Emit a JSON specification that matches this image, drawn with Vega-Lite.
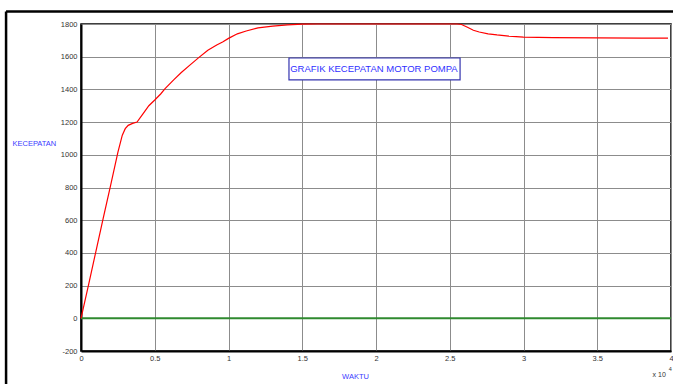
{
  "$schema": "https://vega.github.io/schema/vega-lite/v6.json",
  "width": 590,
  "height": 327,
  "autosize": {"type": "none"},
  "padding": {"left": 81, "top": 24, "right": 2, "bottom": 33},
  "background": "white",
  "config": {
    "view": {"stroke": "black", "strokeWidth": 1.5},
    "font": "Liberation Sans",
    "axis": {"labelOverlap": false, "labelBound": false, "labelSeparation": 0},
    "axisQuantitative": {"labelOverlap": false},
    "axisY": {"labelOverlap": false},
    "axisX": {"labelOverlap": false}
  },
  "datasets": {
    "speed": [
      {"t": 0, "v": 0}, {"t": 0.05, "v": 200}, {"t": 0.1, "v": 405}, {"t": 0.15, "v": 610},
      {"t": 0.2, "v": 810}, {"t": 0.25, "v": 1015}, {"t": 0.28, "v": 1120}, {"t": 0.3, "v": 1160},
      {"t": 0.32, "v": 1180}, {"t": 0.35, "v": 1192}, {"t": 0.38, "v": 1200}, {"t": 0.42, "v": 1250},
      {"t": 0.46, "v": 1300}, {"t": 0.5, "v": 1335}, {"t": 0.54, "v": 1372}, {"t": 0.57, "v": 1405},
      {"t": 0.63, "v": 1460}, {"t": 0.68, "v": 1503}, {"t": 0.74, "v": 1550}, {"t": 0.8, "v": 1596},
      {"t": 0.86, "v": 1640}, {"t": 0.92, "v": 1672}, {"t": 0.96, "v": 1690}, {"t": 1.0, "v": 1712},
      {"t": 1.06, "v": 1740}, {"t": 1.12, "v": 1757}, {"t": 1.2, "v": 1776}, {"t": 1.3, "v": 1787},
      {"t": 1.4, "v": 1795}, {"t": 1.5, "v": 1799}, {"t": 1.6, "v": 1800}, {"t": 2.55, "v": 1800},
      {"t": 2.58, "v": 1797}, {"t": 2.62, "v": 1780}, {"t": 2.66, "v": 1762}, {"t": 2.7, "v": 1751},
      {"t": 2.76, "v": 1740}, {"t": 2.82, "v": 1733}, {"t": 2.9, "v": 1726}, {"t": 3.0, "v": 1720},
      {"t": 3.2, "v": 1717}, {"t": 3.5, "v": 1715}, {"t": 3.8, "v": 1714}, {"t": 3.98, "v": 1713}
    ],
    "zero": [{"t": 0, "v": 0}, {"t": 4, "v": 0}],
    "box": [{"t": 1.41, "t2": 2.57, "v": 1592, "v2": 1458, "label": "GRAFIK KECEPATAN MOTOR POMPA", "tc": 1.986, "vc": 1525}],
    "frameTop": [{"t": -0.508, "t2": 4.05, "v": 1876}],
    "frameLeft": [{"t": -0.508, "v": 1876, "v2": -430}],
    "exp": [{"t": 3.875, "v": -347, "s": "x 10"}],
    "sup": [{"t": 3.985, "v": -310, "s": "4"}]
  },
  "encoding": {
    "x": {
      "field": "t", "type": "quantitative",
      "scale": {"domain": [0, 4], "nice": false, "zero": false},
      "axis": {
        "values": [0, 0.5, 1, 1.5, 2, 2.5, 3, 3.5, 4],
        "labelExpr": "'' + datum.value",
        "labelOverlap": false,
        "grid": true, "gridColor": "#8c8c8c", "gridWidth": 1, "gridOpacity": 1,
        "domainColor": "black", "domainWidth": 2,
        "ticks": false, "labelPadding": 3,
        "labelFontSize": 7.5, "labelColor": "#333333", "labelFont": "Liberation Sans",
        "labelFlush": false,
        "title": "WAKTU", "titleFontSize": 7.5, "titleFontWeight": "normal", "titleColor": "#3b3bff",
        "titleFont": "Liberation Sans",
        "titleX": 274, "titleY": 25, "titleBaseline": "middle", "titleAlign": "center"
      }
    },
    "y": {
      "field": "v", "type": "quantitative",
      "scale": {"domain": [-200, 1800], "nice": false, "zero": false},
      "axis": {
        "values": [-200, 0, 200, 400, 600, 800, 1000, 1200, 1400, 1600, 1800],
        "labelExpr": "'' + datum.value",
        "labelOverlap": false,
        "grid": true, "gridColor": "#8c8c8c", "gridWidth": 1, "gridOpacity": 1,
        "domainColor": "black", "domainWidth": 2,
        "ticks": false, "labelPadding": 4,
        "labelFontSize": 7.5, "labelColor": "#333333", "labelFont": "Liberation Sans",
        "labelFlush": false,
        "title": "KECEPATAN", "titleAngle": 0, "titleFontSize": 7.5, "titleFontWeight": "normal",
        "titleColor": "#3b3bff", "titleFont": "Liberation Sans",
        "titleX": -69, "titleY": 119, "titleAlign": "left", "titleBaseline": "middle"
      }
    }
  },
  "layer": [
    {
      "data": {"name": "zero"},
      "mark": {"type": "line", "color": "#2f8a2f", "strokeWidth": 2}
    },
    {
      "data": {"name": "speed"},
      "mark": {"type": "line", "color": "#ff0000", "strokeWidth": 1.2}
    },
    {
      "data": {"name": "box"},
      "mark": {"type": "rect", "fill": "white", "stroke": "#3434b0", "strokeWidth": 1.2},
      "encoding": {
        "x2": {"field": "t2"},
        "y2": {"field": "v2"}
      }
    },
    {
      "data": {"name": "box"},
      "mark": {"type": "text", "color": "#3030ff", "fontSize": 9.5, "font": "Liberation Sans", "align": "center", "baseline": "middle"},
      "encoding": {
        "x": {"field": "tc", "type": "quantitative"},
        "y": {"field": "vc", "type": "quantitative"},
        "text": {"field": "label"}
      }
    },
    {
      "data": {"name": "frameTop"},
      "mark": {"type": "rule", "color": "black", "strokeWidth": 2.5, "clip": false},
      "encoding": {
        "x2": {"field": "t2"}
      }
    },
    {
      "data": {"name": "frameLeft"},
      "mark": {"type": "rule", "color": "black", "strokeWidth": 2.5, "clip": false},
      "encoding": {
        "y2": {"field": "v2"}
      }
    },
    {
      "data": {"name": "exp"},
      "mark": {"type": "text", "color": "#333333", "fontSize": 7, "font": "Liberation Sans", "align": "left", "baseline": "middle", "clip": false},
      "encoding": {
        "text": {"field": "s"}
      }
    },
    {
      "data": {"name": "sup"},
      "mark": {"type": "text", "color": "#333333", "fontSize": 5.5, "font": "Liberation Sans", "align": "left", "baseline": "middle", "clip": false},
      "encoding": {
        "text": {"field": "s"}
      }
    }
  ]
}
